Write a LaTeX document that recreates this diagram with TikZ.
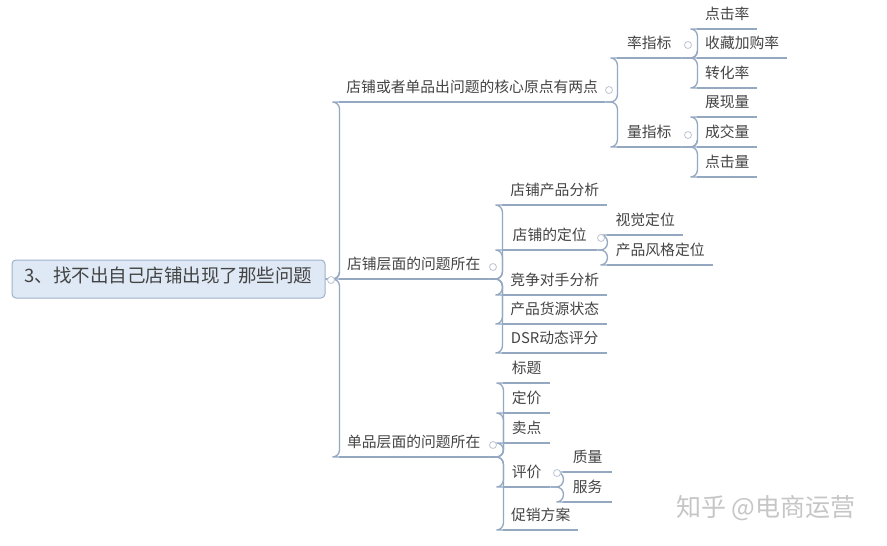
\documentclass[tikz,border=0pt]{standalone}
\usepackage{fontspec}
\setmainfont{Noto Sans CJK SC}
\definecolor{txt}{HTML}{444444}
\definecolor{ln}{HTML}{94A8C2}
\definecolor{rootfill}{HTML}{DFE9F5}
\definecolor{rootdraw}{HTML}{9DB1CA}
\definecolor{knob}{HTML}{BCC6D2}
\definecolor{wm}{HTML}{C6C6C6}
\begin{document}
\begin{tikzpicture}[x=1pt,y=-1pt,
  topic/.style={anchor=south west, inner xsep=0pt, inner ysep=0pt,
    minimum height=26pt, text height=0.88em, text depth=0.12em,
    font=\fontsize{14.8}{16}\selectfont, text=txt},
  rootbox/.style={draw=rootdraw, fill=rootfill, line width=1pt, rounded corners=4pt,
    minimum width=313pt, minimum height=38pt, text height=0.88em, text depth=0.12em,
    font=\fontsize{18.5}{20}\selectfont, text=txt},
  ul/.style={draw=ln, line width=1.3pt},
  conn/.style={draw=ln, line width=1.3pt, rounded corners=7pt},
  knobst/.style={circle, draw=knob, fill=white, line width=0.8pt, minimum size=7pt, inner sep=0pt},
  wmst/.style={font=\fontsize{25}{28}\selectfont, text=wm}
]
\useasboundingbox (0,0) rectangle (887,546);
\fill[white] (0,0) rectangle (887,546);

% root
\node[rootbox] (root) at (168.5,279) {3、找不出自己店铺出现了那些问题};

% level 1
\node[topic, minimum width=266pt] (b1) at (339,102) {店铺或者单品出问题的核心原点有两点};
\node[topic, minimum width=149pt] (b2) at (339,279) {店铺层面的问题所在};
\node[topic, minimum width=149pt] (b3) at (339,457) {单品层面的问题所在};

% b1 children
\node[topic, minimum width=64pt] (r1) at (617,58) {率指标};
\node[topic, minimum width=64pt] (r2) at (617,147) {量指标};
\node[topic, minimum width=60pt] (r11) at (697,29) {点击率};
\node[topic, minimum width=90pt] (r12) at (697,58) {收藏加购率};
\node[topic, minimum width=60pt] (r13) at (697,88) {转化率};
\node[topic, minimum width=60pt] (r21) at (697,117) {展现量};
\node[topic, minimum width=60pt] (r22) at (697,147) {成交量};
\node[topic, minimum width=60pt] (r23) at (697,177) {点击量};

% b2 children
\node[topic, minimum width=105pt] (s1) at (502,205) {店铺产品分析};
\node[topic, minimum width=95pt] (s2) at (502,250) {店铺的定位};
\node[topic, minimum width=105pt] (s3) at (502,295) {竞争对手分析};
\node[topic, minimum width=105pt] (s4) at (502,324) {产品货源状态};
\node[topic, minimum width=105pt] (s5) at (502,353) {DSR动态评分};
\node[topic, minimum width=76pt] (s21) at (607,235) {视觉定位};
\node[topic, minimum width=106pt] (s22) at (607,265) {产品风格定位};

% b3 children
\node[topic, minimum width=47pt] (p1) at (503,383) {标题};
\node[topic, minimum width=47pt] (p2) at (503,413) {定价};
\node[topic, minimum width=47pt] (p3) at (503,443) {卖点};
\node[topic, minimum width=47pt] (p4) at (503,487) {评价};
\node[topic, minimum width=75pt] (p5) at (503,530) {促销方案};
\node[topic, minimum width=49pt] (p41) at (563,472) {质量};
\node[topic, minimum width=49pt] (p42) at (563,502) {服务};

% underlines
\foreach \n in {b1,b2,b3,r1,r2,r11,r12,r13,r21,r22,r23,s1,s2,s3,s4,s5,s21,s22,p1,p2,p3,p4,p5,p41,p42}
  \draw[ul] (\n.south west) -- (\n.south east);

% connectors
\foreach \c in {b1,b2,b3} \draw[conn] (root.east) -- ++(14,0) |- (\c.south west);
\foreach \c in {r1,r2} \draw[conn] (b1.south east) -- ++(12,0) |- (\c.south west);
\foreach \c in {r11,r12,r13} \draw[conn] (r1.south east) -- ++(16,0) |- (\c.south west);
\foreach \c in {r21,r22,r23} \draw[conn] (r2.south east) -- ++(16,0) |- (\c.south west);
\foreach \c in {s1,s2,s3,s4,s5} \draw[conn] (b2.south east) -- ++(14,0) |- (\c.south west);
\foreach \c in {s21,s22} \draw[conn] (s2.south east) -- ++(10,0) |- (\c.south west);
\foreach \c in {p1,p2,p3,p4,p5} \draw[conn] (b3.south east) -- ++(15,0) |- (\c.south west);
\foreach \c in {p41,p42} \draw[conn] (p4.south east) -- ++(13,0) |- (\c.south west);

% collapse knobs
\node[knobst] (k0) at (331,280) {};
\node[knobst] (k1) at (609,90) {};
\node[knobst] (k2) at (493,267) {};
\node[knobst] (k3) at (493,445) {};
\node[knobst] (k4) at (688,45) {};
\node[knobst] (k5) at (688,135) {};
\node[knobst] (k6) at (601,238) {};
\node[knobst] (k7) at (557,473) {};

% watermark
\node[wmst] (wm) at (766,508) {知乎 @电商运营};
\end{tikzpicture}
\end{document}
